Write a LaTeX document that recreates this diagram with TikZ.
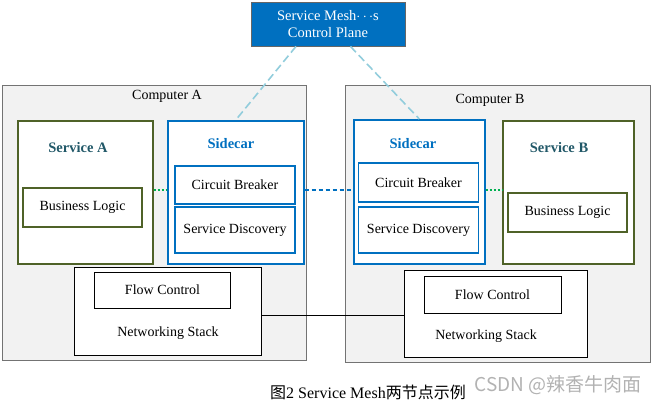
\documentclass[tikz,border=0pt]{standalone}
\usepackage{fontspec}
\setmainfont{Liberation Serif}
\newfontfamily\cjk{Noto Sans CJK SC}
\usetikzlibrary{positioning}
\definecolor{meshblue}{HTML}{0070C0}
\definecolor{svcgreen}{HTML}{4F6228}
\definecolor{svcteal}{HTML}{215868}
\definecolor{ctrlline}{HTML}{92CDDC}
\definecolor{linkgreen}{HTML}{00B050}

\begin{document}
\begin{tikzpicture}[x=1pt, y=-1pt,
    every node/.style={font=\fontsize{14}{16}\selectfont, inner sep=0pt},
    computer/.style={rectangle, draw=black!55, fill=black!5, line width=0.8pt, anchor=north west},
    service/.style={rectangle, draw=svcgreen, fill=white, line width=1.6pt, anchor=north west},
    sidecar/.style={rectangle, draw=meshblue, fill=white, line width=1.6pt, anchor=north west},
    part/.style={rectangle, draw=meshblue, fill=white, line width=1.6pt, minimum width=120pt, align=center},
    logic/.style={rectangle, draw=svcgreen, fill=white, line width=1.6pt, minimum width=119pt, minimum height=39pt},
    stack/.style={rectangle, draw=black, fill=white, line width=0.8pt, anchor=north west},
    flow/.style={rectangle, draw=black, fill=white, line width=0.8pt, minimum width=136pt, minimum height=36pt},
    title/.style={font=\fontsize{14.5}{16}\selectfont\bfseries},
    ctrl/.style={draw=ctrlline, line width=1.6pt, dash pattern=on 8pt off 4pt},
    localdot/.style={draw=linkgreen, line width=1.4pt, dash pattern=on 2pt off 2pt},
    meshdot/.style={draw=meshblue, line width=2.4pt, dash pattern=on 4pt off 3pt}
]
\useasboundingbox (0,0) rectangle (652,406);

% control plane
\node[rectangle, fill=meshblue, draw=black!60, line width=0.8pt, text=white, align=center,
      minimum width=154pt, minimum height=44pt, font=\fontsize{14.5}{17}\selectfont] (plane) at (328,24)
      {Service Mesh$\cdots$s\\Control Plane};

% computer A
\node[computer, minimum width=304pt, minimum height=275pt] (compA) at (2,85) {};
\node (compAlabel) at (167,96) {Computer A};
\node[service, minimum width=135pt, minimum height=143pt] (svcA) at (17,120) {};
\node[title, text=svcteal] (svcAlabel) at (78,148) {Service A};
\node[logic] (logicA) at (82.5,207.5) {Business Logic};
\node[sidecar, minimum width=136pt, minimum height=143pt] (sideA) at (167,120) {};
\node[title, text=meshblue] (sideAlabel) at (231,144) {Sidecar};
\node[part, minimum height=38pt] (cbA) at (235,185) {Circuit Breaker};
\node[part, minimum height=46pt] (sdA) at (235,230) {Service Discovery};
\node[stack, minimum width=187pt, minimum height=88pt] (nsA) at (74,267) {};
\node[flow] (flowA) at (162.5,290) {Flow Control};
\node (nsAlabel) at (168,333) {Networking Stack};

% computer B
\node[computer, minimum width=305pt, minimum height=277pt] (compB) at (345,85) {};
\node (compBlabel) at (490,100) {Computer B};
\node[sidecar, minimum width=131pt, minimum height=144pt] (sideB) at (353,119) {};
\node[title, text=meshblue] (sideBlabel) at (413,144) {Sidecar};
\node[part, minimum height=39pt] (cbB) at (418.5,182.5) {Circuit Breaker};
\node[part, minimum height=46pt] (sdB) at (418.5,230) {Service Discovery};
\node[service, minimum width=131pt, minimum height=143pt] (svcB) at (502,120) {};
\node[title, text=svcteal] (svcBlabel) at (559,148) {Service B};
\node[logic] (logicB) at (567.5,212.5) {Business Logic};
\node[stack, minimum width=183pt, minimum height=87pt] (nsB) at (404,270) {};
\node[flow, minimum width=137pt, minimum height=37pt] (flowB) at (492.5,294.5) {Flow Control};
\node (nsBlabel) at (486,336) {Networking Stack};

% links
\coordinate (link) at (0,190);
\coordinate (wire) at (0,315);
\draw[ctrl] (plane.215) -- (sideA.north);
\draw[ctrl] (plane.-45) -- (sideB.north);
\draw[localdot] (svcA.east |- link) -- (sideA.west |- link);
\draw[meshdot] (sideA.east |- link) -- (sideB.west |- link);
\draw[localdot] (sideB.east |- link) -- (svcB.west |- link);
\draw[black, line width=1pt] (nsA.east |- wire) -- (nsB.west |- wire);

% caption
\node[font=\fontsize{16}{18}\selectfont] (caption) at (368,392) {{\cjk 图}2 Service Mesh{\cjk 两节点示例}};
\node[font=\cjk\fontsize{19}{21}\selectfont, text=black!30] (mark) at (558,385) {CSDN @辣香牛肉面};
\end{tikzpicture}
\end{document}
